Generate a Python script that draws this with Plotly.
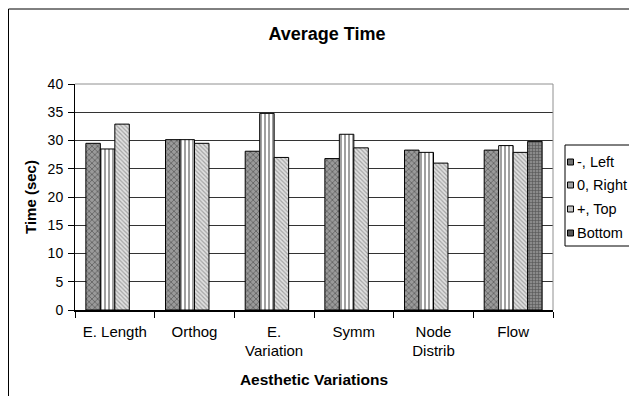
import plotly.graph_objects as go

categories = ["E. Length", "Orthog", "E.<br>Variation", "Symm", "Node<br>Distrib", "Flow"]
left_vals = [29.5, 30.15, 28.1, 26.8, 28.3, 28.3]
right_vals = [28.5, 30.15, 34.8, 31.1, 27.9, 29.1]
top_vals = [32.9, 29.5, 27.0, 28.7, 26.0, 27.9]
bottom_vals = [None, None, None, None, None, 29.85]
series_names = ["-, Left", "0, Right", "+, Top", "Bottom"]
y_ticks = [0, 5, 10, 15, 20, 25, 30, 35, 40]

FONT = "Arial, Liberation Sans, sans-serif"

patterns = [
    dict(shape="x", fgcolor="#1e1e1e", bgcolor="#9a9a9a", size=4, solidity=0.35),
    dict(shape="|", fgcolor="#111111", bgcolor="#ffffff", size=4, solidity=0.4),
    dict(shape="\\", fgcolor="#666666", bgcolor="#e0e0e0", size=3, solidity=0.4),
    dict(shape="+", fgcolor="#202020", bgcolor="#8a8a8a", size=3, solidity=0.35),
]
legend_swatch = ["#707070", "#a0a0a0", "#c4c4c4", "#555555"]

fig = go.Figure()
for i, (name, vals) in enumerate(zip(series_names, [left_vals, right_vals, top_vals, bottom_vals])):
    fig.add_trace(go.Bar(
        x=categories, y=vals, name=name, showlegend=False,
        marker=dict(color=patterns[i]["bgcolor"], pattern=patterns[i],
                    line=dict(color="black", width=1)),
    ))

# page body has an 8px margin, so figure coords = window coords - 8
OFF = 8
W, H = 637 - 2 * OFF, 404 - 2 * OFF
L, R, T, B = 75 - OFF, 553 - OFF, 84 - OFF, 310 - OFF
pw, ph = R - L, B - T

def px_x(p):
    return (p - OFF - L) / pw

def px_y(p):
    return (B - (p - OFF)) / ph

shapes = [
    dict(type="line", xref="paper", yref="paper", x0=0, x1=1, y0=1, y1=1,
         line=dict(color="#909090", width=1), layer="above"),
    dict(type="line", xref="paper", yref="paper", x0=1, x1=1, y0=0, y1=1,
         line=dict(color="#909090", width=1), layer="above"),
    dict(type="rect", xref="paper", yref="paper", x0=px_x(OFF + 0.5), x1=px_x(700),
         y0=px_y(450), y1=px_y(9), line=dict(color="black", width=1), layer="below"),
    dict(type="rect", xref="paper", yref="paper", x0=px_x(565), x1=px_x(700),
         y0=px_y(246), y1=px_y(145), line=dict(color="black", width=1),
         fillcolor="white", layer="above"),
]
annotations = []
legend_rows = [162, 185, 209, 233]
for name, yc, col in zip(series_names, legend_rows, legend_swatch):
    shapes.append(dict(type="rect", xref="paper", yref="paper",
                       x0=px_x(567.5), x1=px_x(573.5), y0=px_y(yc + 3), y1=px_y(yc - 3),
                       line=dict(color="black", width=1), fillcolor=col, layer="above"))
    annotations.append(dict(text=name, xref="paper", yref="paper", x=px_x(575), y=px_y(yc),
                            xanchor="left", yanchor="middle", showarrow=False,
                            font=dict(size=14.5, family=FONT, color="black")))

fig.update_layout(
    width=W, height=H,
    margin=dict(l=L, r=W - R, t=T, b=H - B, pad=0, autoexpand=False),
    paper_bgcolor="white", plot_bgcolor="white",
    barmode="group", bargap=1.5 / 5.5, bargroupgap=0,
    font=dict(family=FONT, size=12, color="black"),
    title=dict(text="<b>Average Time</b>", x=px_x(327), xref="paper", xanchor="center",
               y=1 - (34 - OFF) / H, yanchor="middle", font=dict(size=18, family=FONT)),
    showlegend=False,
    shapes=shapes,
    annotations=annotations,
)

fig.update_xaxes(
    automargin=False,
    title=dict(text="<b>Aesthetic Variations</b>", font=dict(size=15.5, family=FONT), standoff=16),
    showline=True, linecolor="black", linewidth=1.5,
    ticks="outside", tickson="boundaries", ticklen=6, tickcolor="black", ticklabelstandoff=7,
    showgrid=False, tickfont=dict(size=15, family=FONT),
)
fig.update_yaxes(
    automargin=False,
    title=dict(text="<b>Time (sec)</b>", font=dict(size=15, family=FONT), standoff=7),
    range=[0, 40], tickvals=y_ticks, showline=True, linecolor="black", linewidth=1,
    ticks="outside", ticklen=6, tickcolor="black", ticklabelstandoff=2,
    showgrid=True, gridcolor="#333333", gridwidth=1, zeroline=False,
    tickfont=dict(size=14, family=FONT),
)

fig.write_html("out.html")
